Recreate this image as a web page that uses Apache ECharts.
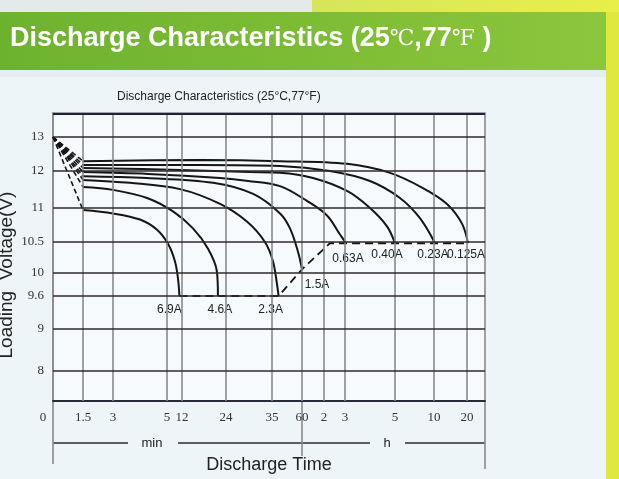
<!DOCTYPE html>
<html><head><meta charset="utf-8">
<script src="https://cdn.jsdelivr.net/npm/echarts@6/dist/echarts.min.js"></script>
<style>html,body{margin:0;padding:0;background:#eef5f8}#c{width:619px;height:479px}</style>
</head><body><div id="c"></div>
<script>
// ---------- data ----------
const xTickMinutes = [0, 1.5, 3, 5, 12, 24, 35, 60, 120, 180, 300, 600, 1200];
const xTickLabels  = ['0', '1.5', '3', '5', '12', '24', '35', '60', '2', '3', '5', '10', '20'];
const yTickVolts   = [8, 9, 9.6, 10, 10.5, 11, 12, 13];
const yTickLabels  = ['8', '9', '9.6', '10', '10.5', '11', '12', '13'];

const currents = ['6.9A', '4.6A', '2.3A', '1.5A', '0.63A', '0.40A', '0.23A', '0.125A'];

const startTime = 0, startVolt = 13;

const t_6_9A = [1.5, 3, 4.0, 4.63, 5.47, 8.7, 10.1, 10.8];
const v_6_9A = [10.97, 10.92, 10.83, 10.68, 10.47, 10.19, 9.91, 9.6];
const t_4_6A = [1.5, 3, 4.26, 7.8, 15.0, 19.1, 21.5, 21.8];
const v_4_6A = [11.57, 11.49, 11.27, 10.95, 10.70, 10.39, 10.03, 9.6];
const t_2_3A = [1.5, 3.63, 11.07, 22.4, 29.0, 33.3, 35.8, 39.2, 40.5];
const v_2_3A = [11.76, 11.68, 11.51, 11.11, 10.80, 10.5, 10.19, 9.8, 9.6];
const t_1_5A = [1.5, 4.26, 20.5, 30.5, 41.7, 50, 56.7, 60];
const v_1_5A = [11.86, 11.81, 11.68, 11.38, 10.92, 10.70, 10.34, 10.06];
const t_0_63A = [1.5, 4.3, 22.4, 29.3, 41.7, 73.6, 128.6, 165.7, 182.4];
const v_0_63A = [11.97, 11.92, 11.81, 11.73, 11.59, 11.19, 10.89, 10.61, 10.48];
const t_0_40A = [1.5, 11.07, 29.7, 41.7, 90, 184.8, 240, 280.8, 300];
const v_0_40A = [12.09, 12.03, 11.97, 11.95, 11.81, 11.46, 11.0, 10.73, 10.48];
const t_0_23A = [1.5, 16.9, 41.7, 137, 240, 338, 492, 618];
const v_0_23A = [12.18, 12.18, 12.15, 12.0, 11.73, 11.27, 10.85, 10.48];
const t_0_125A = [1.5, 16.9, 41.7, 184.8, 288, 515, 836, 1109, 1218];
const v_0_125A = [12.29, 12.32, 12.29, 12.21, 11.95, 11.54, 11.11, 10.77, 10.48];

const cutoffTime = [10.8, 40.5, 60, 137, 1218];
const cutoffVolt = [9.6, 9.6, 10.06, 10.48, 10.48];

// ---------- axis scale (hand-drawn, piecewise) ----------
const X_SCALE_IN  = [0, 1.5, 3, 5, 12, 24, 35, 60, 120, 180, 300, 600, 1200, 1530];
const X_SCALE_OUT = [0, 30, 60, 114, 129, 173, 219, 249, 271, 292, 342, 381, 414, 432];
const Y_SCALE_IN  = [7.0, 8, 9, 9.6, 10, 10.5, 11, 12, 13, 13.7];
const Y_SCALE_OUT = [0, 30, 72, 105, 128, 159, 193, 230, 264, 288];
function interp(v, xs, ps) {
  for (let i = 0; i < xs.length - 1; i++) {
    if (v <= xs[i + 1] || i === xs.length - 2) {
      const f = (v - xs[i]) / (xs[i + 1] - xs[i]);
      return ps[i] + f * (ps[i + 1] - ps[i]);
    }
  }
}
const xPos = t => interp(t, X_SCALE_IN, X_SCALE_OUT);
const yPos = v => interp(v, Y_SCALE_IN, Y_SCALE_OUT);

const curveT = [t_6_9A, t_4_6A, t_2_3A, t_1_5A, t_0_63A, t_0_40A, t_0_23A, t_0_125A];
const curveV = [v_6_9A, v_4_6A, v_2_3A, v_1_5A, v_0_63A, v_0_40A, v_0_23A, v_0_125A];

const labelOffset = [[-10, 3], [2, 3], [-8, 3], [15, 5], [2, 5], [-8, 1], [-2, 1], [-2, 1]];
const INK = '#151515';
const labelFont = {fontFamily: 'Liberation Sans', fontSize: 12, color: '#222'};

const series = [];
// grid lines
series.push({
  type: 'line', data: [], silent: true, z: 1,
  markLine: {
    symbol: 'none', silent: true, animation: false, label: {show: false},
    emphasis: {disabled: true},
    lineStyle: {color: '#8a8a8a', width: 1.6, type: 'solid'},
    data: xTickMinutes.slice(1).map(t => ({xAxis: xPos(t)}))
  }
});
series.push({
  type: 'line', data: [], silent: true, z: 1,
  markLine: {
    symbol: 'none', silent: true, animation: false, label: {show: false},
    emphasis: {disabled: true},
    lineStyle: {color: '#2e2a2a', width: 1.5, type: 'solid'},
    data: yTickVolts.map(v => ({yAxis: yPos(v)})).concat([{yAxis: 287.5, lineStyle: {color: '#1d2433', width: 2}}])
  }
});
// fan dashed lines and curves
currents.forEach((name, k) => {
  const T = curveT[k], V = curveV[k];
  series.push({
    type: 'line', name: name + ' start', silent: true, symbol: 'none', z: 3,
    lineStyle: {color: INK, width: 1.6, type: [5, 3]},
    data: [[xPos(startTime), yPos(startVolt)], [xPos(T[0]), yPos(V[0])]]
  });
  const pts = T.map((t, i) => {
    const p = [xPos(t), yPos(V[i])];
    if (i === T.length - 1) {
      return {value: p, label: Object.assign({show: true, position: 'bottom', distance: 4, offset: labelOffset[k], formatter: name}, labelFont)};
    }
    return p;
  });
  series.push({
    type: 'line', name: name, silent: true, symbol: 'circle', symbolSize: 1, showSymbol: true, showAllSymbol: true, z: 4,
    itemStyle: {color: 'rgba(0,0,0,0)'},
    smooth: 0.35,
    lineStyle: {color: INK, width: 2},
    data: pts
  });
});
series.push({
  type: 'line', name: 'cutoff', silent: true, symbol: 'none', z: 3,
  lineStyle: {color: INK, width: 1.8, type: [8, 5]},
  data: cutoffTime.map((t, i) => [xPos(t), yPos(cutoffVolt[i])])
});

const option = {
  animation: false,
  backgroundColor: '#eef5f8',
  title: [
    {
      text: 'Discharge Characteristics (25°C,77°F)',
      left: 112, top: 86,
      textStyle: {fontFamily: 'Liberation Sans', fontSize: 12, fontWeight: 'normal', color: '#222'}
    }
  ],
  graphic: [
    {type: 'rect', z: -10, silent: true, shape: {x: 0, y: 0, width: 312, height: 12}, style: {fill: '#e4eaea'}},
    {type: 'rect', z: -10, silent: true, shape: {x: 312, y: 0, width: 307, height: 12},
      style: {fill: new echarts.graphic.LinearGradient(0, 0, 1, 0, [{offset: 0, color: '#d6e65a'}, {offset: 1, color: '#e8ef48'}])}},
    {type: 'rect', z: -10, silent: true, shape: {x: 0, y: 12, width: 606, height: 58},
      style: {fill: new echarts.graphic.LinearGradient(0, 0, 1, 0, [{offset: 0, color: '#6db22e'}, {offset: 1, color: '#8cc63c'}])}},
    {type: 'rect', z: -10, silent: true, shape: {x: 606, y: 12, width: 13, height: 467}, style: {fill: '#dfe83c'}},
    {type: 'rect', z: -10, silent: true, shape: {x: 0, y: 70, width: 606, height: 7}, style: {fill: '#e6eef0'}},
    {type: 'text', silent: true, x: 10, y: 39,
      style: {
        text: '{a|Discharge Characteristics (25}{b|℃}{a|,77}{b|℉}{a| )}',
        textVerticalAlign: 'middle',
        rich: {
          a: {fontFamily: 'Liberation Sans', fontWeight: 'bold', fontSize: 27, fill: '#ffffff'},
          b: {fontFamily: 'DejaVu Serif', fontSize: 22, fill: '#ffffff'}
        }
      }},
    {type: 'line', silent: true, shape: {x1: 53, y1: 443, x2: 128, y2: 443}, style: {stroke: '#2a2a3a', lineWidth: 1.5}},
    {type: 'line', silent: true, shape: {x1: 178, y1: 443, x2: 370, y2: 443}, style: {stroke: '#2a2a3a', lineWidth: 1.5}},
    {type: 'line', silent: true, shape: {x1: 405, y1: 443, x2: 485, y2: 443}, style: {stroke: '#2a2a3a', lineWidth: 1.5}},
    {type: 'line', silent: true, shape: {x1: 302, y1: 401, x2: 302, y2: 456}, style: {stroke: '#8a8a8a', lineWidth: 1.6}},
    {type: 'line', silent: true, shape: {x1: 53, y1: 401, x2: 53, y2: 464}, style: {stroke: '#8a8a8a', lineWidth: 1.6}},
    {type: 'line', silent: true, shape: {x1: 485, y1: 401, x2: 485, y2: 469}, style: {stroke: '#8a8a8a', lineWidth: 1.6}},
    {type: 'text', silent: true, x: 152, y: 443, style: {text: 'min', fill: '#222', font: '13px "Liberation Sans"', textAlign: 'center', textVerticalAlign: 'middle'}},
    {type: 'text', silent: true, x: 387, y: 443, style: {text: 'h', fill: '#222', font: '13px "Liberation Sans"', textAlign: 'center', textVerticalAlign: 'middle'}}
  ],
  grid: {left: 53, top: 113, width: 432, height: 288, containLabel: false, outerBoundsMode: 'none',
    show: true, backgroundColor: '#f6fafc', borderColor: '#8a8a8a', borderWidth: 1.6},
  xAxis: {
    type: 'value', min: 0, max: 432,
    name: 'Discharge Time', nameLocation: 'middle', nameGap: 55, nameMoveOverlap: false,
    nameTextStyle: {fontFamily: 'Liberation Sans', fontSize: 18, color: '#222'},
    axisLine: {show: true, lineStyle: {color: '#2a2a3a', width: 2}},
    axisTick: {show: false},
    splitLine: {show: false},
    axisLabel: {
      customValues: xTickMinutes.map(xPos),
      margin: 10, fontFamily: 'Liberation Serif', fontSize: 13, color: '#333',
      formatter: (val) => {
        const i = xTickMinutes.findIndex(t => Math.abs(xPos(t) - val) < 0.01);
        if (i === 0) return '{z|' + xTickLabels[0] + '}';
        return i >= 0 ? xTickLabels[i] : '';
      },
      rich: {z: {padding: [0, 20, 0, 0], fontFamily: 'Liberation Serif', fontSize: 13, color: '#333'}}
    }
  },
  yAxis: {
    type: 'value', min: 0, max: 288,
    name: 'Loading  Voltage(V)', nameLocation: 'middle', nameGap: 37, nameRotate: 90, nameMoveOverlap: false,
    nameTextStyle: {fontFamily: 'Liberation Sans', fontSize: 19, color: '#222', padding: [0, 36, 0, 0]},
    axisLine: {show: true, lineStyle: {color: '#8a8a8a', width: 1.6}},
    axisTick: {show: false},
    splitLine: {show: false},
    axisLabel: {
      customValues: yTickVolts.map(yPos),
      margin: 9, fontFamily: 'Liberation Serif', fontSize: 13, color: '#333',
      formatter: (val) => {
        const i = yTickVolts.findIndex(v => Math.abs(yPos(v) - val) < 0.01);
        return i >= 0 ? yTickLabels[i] : '';
      }
    }
  },
  series: series
};
const chart = echarts.init(document.getElementById('c'));
chart.setOption(option);
</script></body></html>
